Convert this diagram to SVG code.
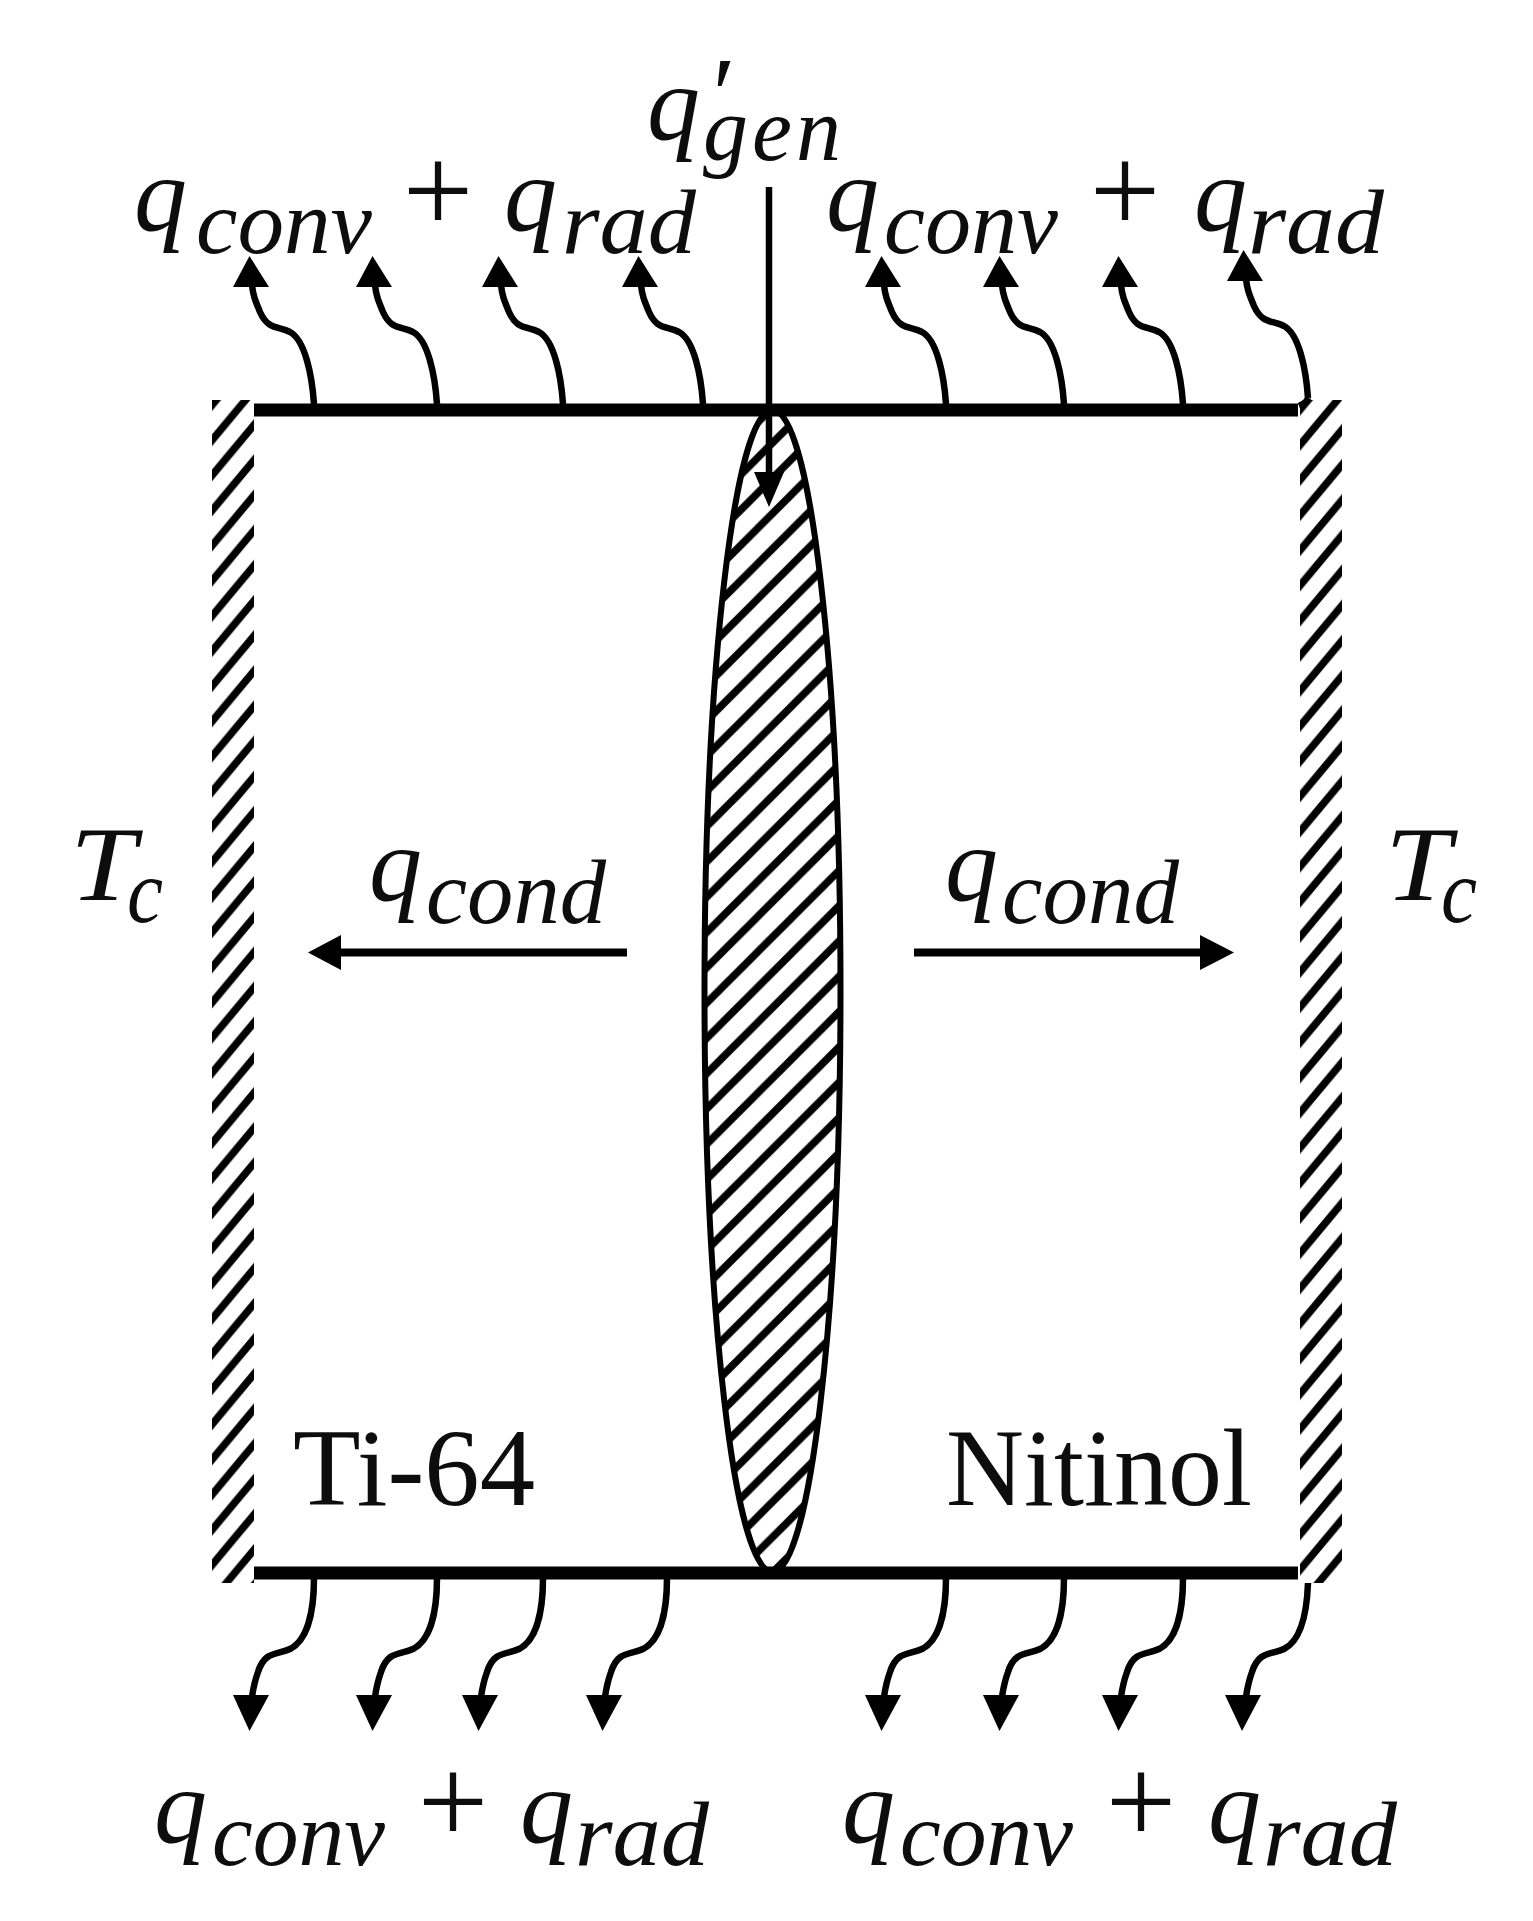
<svg xmlns="http://www.w3.org/2000/svg" width="1533" height="1921" viewBox="0 0 1533 1921">
<style>
text{font-family:"Liberation Serif","Times New Roman",serif;fill:#0d0d0d}
.q{font-size:106px;font-style:italic}
.s{font-size:90px;font-style:italic}
.p{font-size:125px;text-anchor:middle}
.m{font-size:110px}
.bar{stroke:#000;stroke-width:13;fill:none}
.wave{stroke:#000;stroke-width:6.5;fill:none}
.shaft{stroke:#000;stroke-width:8;fill:none}
.hatch{stroke:#000;stroke-width:7.5;fill:none}
</style>
<defs>
<pattern id="hL" patternUnits="userSpaceOnUse" width="29.29" height="35.15" patternTransform="translate(0 26.8)"><path class="hatch" d="M-29.29,35.15L29.29,-35.15M-29.29,70.3L58.58,-35.15M0,70.3L58.58,0"/></pattern>
<pattern id="hR" patternUnits="userSpaceOnUse" width="29.29" height="35.15" patternTransform="translate(0 1.5)"><path class="hatch" d="M-29.29,35.15L29.29,-35.15M-29.29,70.3L58.58,-35.15M0,70.3L58.58,0"/></pattern>
<pattern id="hC" patternUnits="userSpaceOnUse" width="35.3" height="35.3" patternTransform="translate(15.2 0)"><path class="hatch" d="M-5,40.3L40.3,-5M-5,5L5,-5M30.3,40.3L40.3,30.3"/></pattern>
<g id="up"><path class="wave" d="M0,0c-2,-29 -9,-64 -24,-72c-12,-6 -22,-2 -30,-20c-5,-12 -7,-17 -8,-27"/><polygon points="-64.5,-148 -81,-117 -45,-117"/></g>
<g id="down"><path class="wave" d="M0,0c0,32 -6,62 -24,71c-12,6 -25,1 -32,23c-4,11 -5,18 -6,25"/><polygon points="-64.5,153 -81,117 -45,117"/></g>
</defs>
<rect width="1533" height="1921" fill="#fff"/>
<g id="wall-left"><rect x="212" y="400" width="42" height="1183" fill="url(#hL)"/></g>
<g id="wall-right"><rect x="1300" y="400" width="42" height="1183" fill="url(#hR)"/></g>
<g id="weld"><ellipse cx="772.5" cy="991" rx="68" ry="581" fill="url(#hC)" stroke="#000" stroke-width="6"/></g>
<g id="plate-top"><path class="bar" d="M254,410H1298"/></g>
<g id="plate-bottom"><path class="bar" d="M254,1573H1298"/></g>
<g id="connectors">
<path class="wave" d="M769,187V480"/>
<polygon points="769,507 754,472 784,472"/>
<use href="#up" x="314" y="404"/><use href="#up" x="437" y="404"/><use href="#up" x="563" y="404"/><use href="#up" x="703" y="404"/>
<use href="#up" x="946" y="404"/><use href="#up" x="1064" y="404"/><use href="#up" x="1183" y="404"/><use href="#up" x="1308" y="398"/>
<path class="wave" d="M1308,398Q1307,403 1299,406"/>
<use href="#down" x="314" y="1578"/><use href="#down" x="437" y="1578"/><use href="#down" x="543" y="1578"/><use href="#down" x="667" y="1578"/>
<use href="#down" x="946" y="1578"/><use href="#down" x="1064" y="1578"/><use href="#down" x="1183" y="1578"/>
<path class="wave" d="M1308,1583c-1,27 -6,57 -24,66c-12,6 -25,1 -32,23c-4,11 -5,18 -6,25"/><polygon points="1242,1731 1225,1695 1261,1695"/>
<path class="shaft" d="M627,952.5H335"/><polygon points="308,952.5 341,935 341,970"/>
<path class="shaft" d="M914,952.5H1205"/><polygon points="1234,952.5 1200,935 1200,970"/>
</g>
<g id="label-gen"><text><tspan class="q" x="647" y="139">q</tspan><tspan class="q" x="706" y="131">′</tspan><tspan class="s" x="703" y="160" style="letter-spacing:4px">gen</tspan></text></g>
<g id="label-top-left"><text class="q" x="134" y="230">q</text><text class="s" x="196" y="253" textLength="176" lengthAdjust="spacingAndGlyphs">conv</text><text class="p" x="438" y="232">+</text><text class="q" x="504" y="230">q</text><text class="s" x="562" y="253" textLength="134" lengthAdjust="spacingAndGlyphs">rad</text></g>
<g id="label-top-right"><text class="q" x="826" y="230">q</text><text class="s" x="884" y="253" textLength="174" lengthAdjust="spacingAndGlyphs">conv</text><text class="p" x="1125" y="232">+</text><text class="q" x="1194" y="230">q</text><text class="s" x="1248" y="253" textLength="136" lengthAdjust="spacingAndGlyphs">rad</text></g>
<g id="label-bottom-left"><text class="q" x="154" y="1842">q</text><text class="s" x="212" y="1865" textLength="173" lengthAdjust="spacingAndGlyphs">conv</text><text class="p" x="453" y="1843">+</text><text class="q" x="520" y="1842">q</text><text class="s" x="575" y="1865" textLength="134" lengthAdjust="spacingAndGlyphs">rad</text></g>
<g id="label-bottom-right"><text class="q" x="842" y="1842">q</text><text class="s" x="900" y="1865" textLength="173" lengthAdjust="spacingAndGlyphs">conv</text><text class="p" x="1141" y="1843">+</text><text class="q" x="1208" y="1842">q</text><text class="s" x="1263" y="1865" textLength="134" lengthAdjust="spacingAndGlyphs">rad</text></g>
<g id="label-tc-left"><text class="q" x="70" y="900" textLength="66" lengthAdjust="spacingAndGlyphs">T</text><text class="s" x="127" y="922" textLength="36" lengthAdjust="spacingAndGlyphs">c</text></g>
<g id="label-tc-right"><text class="q" x="1385" y="900" textLength="66" lengthAdjust="spacingAndGlyphs">T</text><text class="s" x="1441" y="922" textLength="36" lengthAdjust="spacingAndGlyphs">c</text></g>
<g id="label-cond-left"><text class="q" x="369" y="900">q</text><text class="s" x="426" y="923" textLength="180" lengthAdjust="spacingAndGlyphs">cond</text></g>
<g id="label-cond-right"><text class="q" x="945" y="900">q</text><text class="s" x="1002" y="923" textLength="177" lengthAdjust="spacingAndGlyphs">cond</text></g>
<g id="label-ti64"><text class="m" x="293" y="1505" textLength="242" lengthAdjust="spacingAndGlyphs">Ti-64</text></g>
<g id="label-nitinol"><text class="m" x="946" y="1505" textLength="306" lengthAdjust="spacingAndGlyphs">Nitinol</text></g>
</svg>
